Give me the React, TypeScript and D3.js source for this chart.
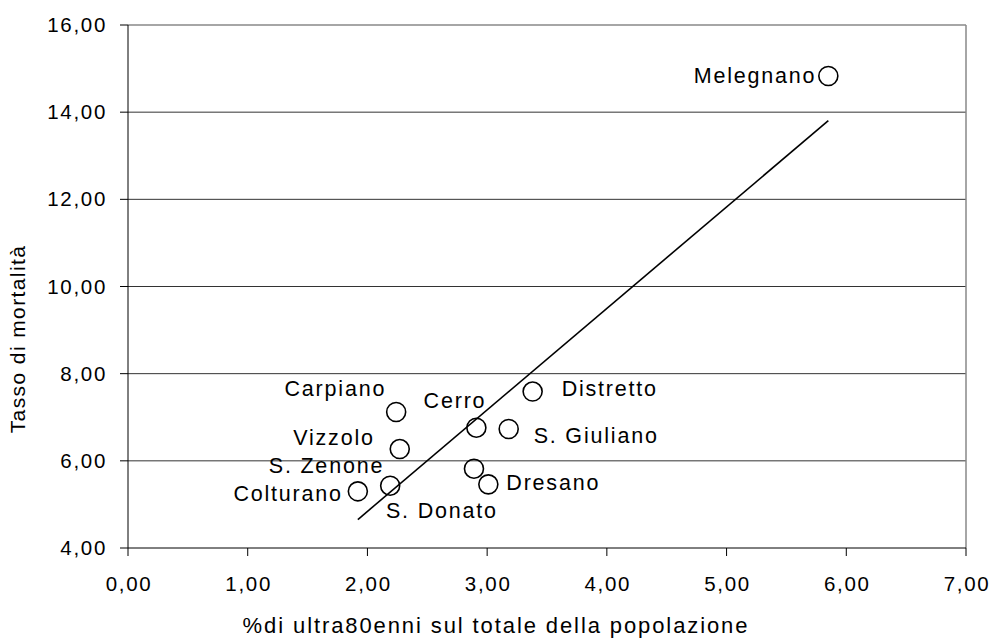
import React from "react";
import * as d3 from "d3";

const names = ["Melegnano", "Carpiano", "Cerro", "Vizzolo", "S. Zenone", "Colturano", "S. Donato", "Dresano", "S. Giuliano", "Distretto"];
const xValues = [5.85, 2.24, 2.91, 2.27, 2.19, 1.92, 2.89, 3.01, 3.18, 3.38];
const yValues = [14.83, 7.12, 6.76, 6.27, 5.43, 5.30, 5.82, 5.46, 6.73, 7.59];
const xTicks = [0, 1, 2, 3, 4, 5, 6, 7];
const yTicks = [4, 6, 8, 10, 12, 14, 16];
const xTitle = "%di ultra80enni sul totale della popolazione";
const yTitle = "Tasso di mortalità";

// label placement (style): dx, dy relative to point, anchor
const labelPos: [number, number, string][] = [
  [-12, 7, "end"],
  [-10, -16, "end"],
  [10, -20, "end"],
  [-25, -4, "end"],
  [-6, -13, "end"],
  [-15, 10, "end"],
  [-88, 49, "start"],
  [18, 6, "start"],
  [25, 14, "start"],
  [29, 4, "start"],
];

const W = 992, H = 639;
const L = 128, R = 966, T = 25, B = 548;

export default function App() {
  const x = d3.scaleLinear().domain([0, 7]).range([L, R]);
  const y = d3.scaleLinear().domain([4, 16]).range([B, T]);
  const fmt = (v: number) => d3.format(".2f")(v).replace(".", ",");

  const mx = d3.mean(xValues)!;
  const my = d3.mean(yValues)!;
  let sxy = 0, sxx = 0;
  xValues.forEach((v, i) => { sxy += (v - mx) * (yValues[i] - my); sxx += (v - mx) * (v - mx); });
  const slope = sxy / sxx;
  const icpt = my - slope * mx;
  const [x0, x1] = d3.extent(xValues) as [number, number];
  const line = d3.line<number>().x((v) => x(v)).y((v) => y(icpt + slope * v));

  const font = "'Liberation Sans', Arial, sans-serif";

  return (
    <svg width={W} height={H} style={{ position: "absolute", left: 0, top: 0, background: "#fff" }} fontFamily={font}>
      <rect x={0} y={0} width={W} height={H} fill="#fff" />
      {yTicks.filter((t) => t !== 4 && t !== 16).map((t) => (
        <line key={"g" + t} x1={L} x2={R} y1={y(t)} y2={y(t)} stroke="#333" strokeWidth={1} />
      ))}
      <line x1={L} x2={R} y1={y(16)} y2={y(16)} stroke="#888" strokeWidth={1.5} />
      <line x1={R} x2={R} y1={T} y2={B} stroke="#888" strokeWidth={1.5} />
      <line x1={L} x2={L} y1={T} y2={B} stroke="#000" strokeWidth={1} />
      <line x1={L} x2={R} y1={B} y2={B} stroke="#000" strokeWidth={1} />
      {yTicks.map((t) => (
        <g key={"y" + t}>
          <line x1={L - 8} x2={L} y1={y(t)} y2={y(t)} stroke="#000" />
          <text x={107} y={y(t) + 7} textAnchor="end" fontSize={20.5} letterSpacing={1.7} fill="#000">{fmt(t)}</text>
        </g>
      ))}
      {xTicks.map((t) => (
        <g key={"x" + t}>
          <line x1={x(t)} x2={x(t)} y1={B} y2={B + 8} stroke="#000" />
          <text x={x(t) + 1} y={591} textAnchor="middle" fontSize={20.5} letterSpacing={1.7} fill="#000">{fmt(t)}</text>
        </g>
      ))}
      <path d={line([x0, x1]) || ""} fill="none" stroke="#000" strokeWidth={1.6} />
      {xValues.map((v, i) => (
        <circle key={"c" + i} cx={x(v)} cy={y(yValues[i])} r={9.5} fill="none" stroke="#000" strokeWidth={1.6} />
      ))}
      {xValues.map((v, i) => {
        const [dx, dy, anchor] = labelPos[i];
        return (
          <text key={"l" + i} x={x(v) + dx} y={y(yValues[i]) + dy} textAnchor={anchor as any} fontSize={21.5} letterSpacing={1.8} fill="#000">{names[i]}</text>
        );
      })}
      <text x={496} y={633} textAnchor="middle" fontSize={22} letterSpacing={1.9} fill="#000">{xTitle}</text>
      <text transform={`translate(25,339) rotate(-90)`} textAnchor="middle" fontSize={21} letterSpacing={1.4} fill="#000">{yTitle}</text>
    </svg>
  );
}
